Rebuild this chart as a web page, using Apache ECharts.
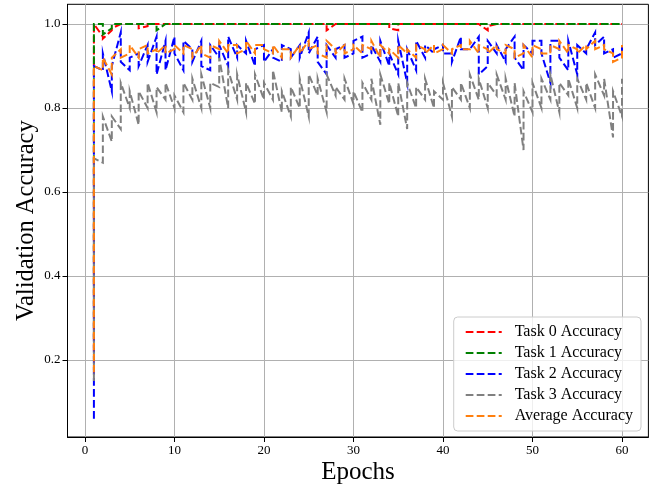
<!DOCTYPE html>
<html>
<head>
<meta charset="utf-8">
<script src="https://cdn.jsdelivr.net/npm/echarts@6/dist/echarts.min.js"></script>
<style>
html,body{margin:0;padding:0;background:#fff;}
#chart{width:653px;height:486px;}
</style>
</head>
<body>
<div id="chart"></div>
<script>
// Epochs (each epoch has two logged validation readings)
const epochs = [1,2,3,4,5,6,7,8,9,10,11,12,13,14,15,16,17,18,19,20,21,22,23,24,25,26,27,28,29,30,31,32,33,34,35,36,37,38,39,40,41,42,43,44,45,46,47,48,49,50,51,52,53,54,55,56,57,58,59,60];

const xTicks = [0,10,20,30,40,50,60];
const yTicks = [0.2,0.4,0.6,0.8,1.0];

// Task 0 (first / second reading per epoch)
const task0A = [0.22,0.97,0.985,1,1,1,0.995,1,1,1,1,1,1,1,1,1,1,1,1,1,1,1,1,1,1,1,1,1,1,1,1,1,1,1,0.985,1,1,1,1,1,1,1,1,1,0.985,1,1,1,1,1,1,1,1,1,1,1,1,1,1,1];
const task0B = [1.0,0.965,0.99,1,1,0.99,1,1,1,1,1,1,1,1,1,1,1,1,1,1,1,1,1,1,1,1,0.985,1,1,1,1,1,1,0.99,1,1,1,1,1,1,1,1,1,1,0.995,1,1,1,1,1,1,1,1,1,1,1,1,1,1,1];

// Task 1
const task1A = [0.25,1.0,0.99,1,1,1,1,1.0,1,1,1,1,1,1,1,1,1,1,1,1,1,1,1,1,1,1,1,1,1,1,1,1,1,1,1,1,1,1,1,1,1,1,1,1,1,1,1,1,1,1,1,1,1,1,1,1,1,1,1,1];
const task1B = [1.0,0.975,1.0,1,1,1,1,0.985,1,1,1,1,1,1,1,1,1,1,1,1,1,1,1,1,1,1,1,1,1,1,1,1,1,1,1,1,1,1,1,1,1,1,1,1,1,1,1,1,1,1,1,1,1,1,1,1,1,1,1,1];

// Task 2
const task2A = [0.06,0.89,0.84,0.98,0.89,0.93,0.95,0.97,0.96,0.97,0.89,0.94,0.96,0.89,0.92,0.90,0.92,0.93,0.90,0.95,0.94,0.91,0.94,0.95,0.98,0.97,0.88,0.92,0.95,0.93,0.97,0.93,0.91,0.90,0.88,0.86,0.89,0.92,0.93,0.95,0.93,0.97,0.94,0.97,0.90,0.93,0.91,0.97,0.89,0.93,0.96,0.86,0.96,0.89,0.88,0.93,0.98,0.97,0.94,0.93];
const task2B = [0.90,0.93,0.90,0.91,0.92,0.90,0.91,0.88,0.89,0.93,0.96,0.91,0.90,0.95,0.95,0.97,0.95,0.96,0.94,0.91,0.92,0.95,0.92,0.92,0.93,0.91,0.95,0.94,0.92,0.96,0.92,0.95,0.96,0.93,0.96,0.94,0.96,0.95,0.94,0.93,0.91,0.94,0.94,0.88,0.96,0.95,0.94,0.92,0.95,0.96,0.93,0.96,0.92,0.96,0.95,0.94,0.95,0.93,0.92,0.95];

// Task 3
const task3A = [0.15,0.67,0.72,0.75,0.80,0.76,0.80,0.79,0.82,0.80,0.79,0.82,0.80,0.80,0.85,0.80,0.82,0.79,0.81,0.82,0.82,0.79,0.78,0.80,0.78,0.83,0.79,0.83,0.82,0.81,0.79,0.82,0.76,0.81,0.78,0.75,0.80,0.82,0.80,0.82,0.78,0.82,0.80,0.82,0.80,0.83,0.82,0.78,0.70,0.79,0.80,0.82,0.79,0.83,0.80,0.82,0.80,0.83,0.73,0.78];
const task3B = [0.68,0.78,0.78,0.86,0.84,0.84,0.86,0.85,0.86,0.83,0.86,0.87,0.88,0.86,0.92,0.89,0.88,0.86,0.88,0.86,0.89,0.84,0.85,0.87,0.88,0.87,0.88,0.85,0.87,0.84,0.86,0.87,0.88,0.86,0.86,0.86,0.85,0.87,0.84,0.86,0.85,0.86,0.88,0.87,0.86,0.88,0.87,0.86,0.84,0.86,0.87,0.88,0.86,0.87,0.87,0.86,0.88,0.87,0.84,0.87];

// Average
const avgA = [0.17,0.89,0.88,0.94,0.93,0.92,0.95,0.94,0.95,0.94,0.93,0.94,0.95,0.92,0.94,0.93,0.95,0.94,0.93,0.95,0.93,0.92,0.94,0.95,0.96,0.95,0.92,0.94,0.95,0.94,0.93,0.94,0.92,0.93,0.92,0.93,0.92,0.94,0.95,0.94,0.93,0.95,0.94,0.93,0.94,0.95,0.93,0.94,0.93,0.92,0.94,0.93,0.94,0.93,0.94,0.95,0.96,0.95,0.93,0.92];
const avgB = [0.90,0.92,0.92,0.92,0.95,0.94,0.93,0.93,0.93,0.95,0.95,0.92,0.93,0.95,0.96,0.95,0.93,0.96,0.95,0.94,0.95,0.94,0.92,0.93,0.94,0.93,0.96,0.93,0.93,0.95,0.95,0.96,0.95,0.94,0.95,0.94,0.95,0.93,0.93,0.95,0.94,0.94,0.96,0.95,0.93,0.94,0.95,0.92,0.95,0.95,0.93,0.95,0.96,0.95,0.93,0.94,0.94,0.94,0.91,0.95];

function pairs(a, b) {
  const out = [];
  for (let i = 0; i < epochs.length; i++) {
    out.push([epochs[i], a[i]]);
    out.push([epochs[i], b[i]]);
  }
  return out;
}

const FONT = 'Liberation Serif';
const dash = [7.7, 3.3];

function mk(name, color, a, b) {
  return {
    name: name, type: 'line', data: pairs(a, b),
    showSymbol: false, symbol: 'none', animation: false,
    lineStyle: { color: color, width: 2, type: dash, cap: 'butt', join: 'miter' },
    itemStyle: { color: color },
    clip: true
  };
}

const chart = echarts.init(document.getElementById('chart'), null, { renderer: 'canvas' });
chart.setOption({
  animation: false,
  backgroundColor: '#fff',
  grid: { left: 67.5, right: 4.6, top: 4.3, bottom: 49, show: true, borderColor: '#000', borderWidth: 1, backgroundColor: 'transparent', outerBoundsMode: 'none', containLabel: false },
  xAxis: {
    type: 'value', min: -1.95, max: 62.95,
    name: 'Epochs', nameLocation: 'middle', nameGap: 23, nameMoveOverlap: false,
    nameTextStyle: { fontFamily: FONT, fontSize: 25, color: '#000' },
    axisLine: { show: true, onZero: false, lineStyle: { color: '#000', width: 1 } },
    axisTick: { show: true, inside: false, length: 5, lineStyle: { color: '#000' }, customValues: xTicks },
    axisLabel: { fontFamily: FONT, fontSize: 13, color: '#000', margin: 7, customValues: xTicks },
    splitLine: { show: true, lineStyle: { color: '#b0b0b0', width: 1 } }
  },
  yAxis: {
    type: 'value', min: 0.0167, max: 1.047,
    name: 'Validation Accuracy', nameLocation: 'middle', nameGap: 28, nameMoveOverlap: false,
    nameTextStyle: { fontFamily: FONT, fontSize: 24.5, color: '#000' },
    axisLine: { show: true, onZero: false, lineStyle: { color: '#000', width: 1 } },
    axisTick: { show: true, inside: false, length: 5, lineStyle: { color: '#000' }, customValues: yTicks },
    axisLabel: { fontFamily: FONT, fontSize: 13, color: '#000', margin: 7, customValues: yTicks,
      formatter: function (v) { return v.toFixed(1); } },
    splitLine: { show: true, lineStyle: { color: '#b0b0b0', width: 1 } }
  },
  legend: {
    orient: 'vertical', right: 12, bottom: 55,
    itemWidth: 36, itemHeight: 10, itemGap: 5,
    padding: [7, 8, 7, 11],
    backgroundColor: 'rgba(255,255,255,0.8)',
    borderColor: '#cccccc', borderWidth: 1, borderRadius: 4,
    itemStyle: { opacity: 0 },
    textStyle: { fontFamily: FONT, fontSize: 16, color: '#000', padding: [0, 0, 0, 8] },
    data: ['Task 0 Accuracy', 'Task 1 Accuracy', 'Task 2 Accuracy', 'Task 3 Accuracy', 'Average Accuracy']
  },
  series: [
    mk('Task 0 Accuracy', '#ff0000', task0A, task0B),
    mk('Task 1 Accuracy', '#008000', task1A, task1B),
    mk('Task 2 Accuracy', '#0000ff', task2A, task2B),
    mk('Task 3 Accuracy', '#808080', task3A, task3B),
    mk('Average Accuracy', '#ff7f0e', avgA, avgB)
  ]
});
</script>
</body>
</html>
